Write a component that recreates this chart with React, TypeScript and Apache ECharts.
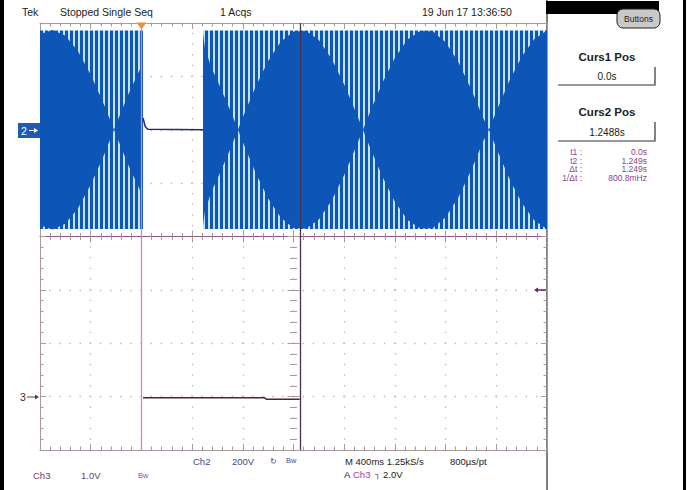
import React, { useEffect, useRef } from 'react';
import * as echarts from 'echarts';

// ---- axis ranges (time in s, vertical in divisions) ----
const timeMin = -0.8;
const timeMax = 3.2;
const timeDiv = 0.4;
const vMin = -4;
const vMax = 4;
const vDiv = 1;

// ---- Ch2 (200V/div) beat waveform, offset +2 div ----
const ch2Offset = 2.0;
const ch2Amplitude = 1.86;
const ch2Seg1Time = [-0.8, -0.7, -0.6, -0.5, -0.4, -0.3, -0.216, -0.2, -0.1, 0.0, 0.013];
const ch2Seg1Env = [1.79, 1.87, 1.76, 1.47, 1.03, 0.5, 0, 0.1, 0.68, 1.19, 1.23];
const ch2Seg2Time = [0.486, 0.5, 0.55, 0.6, 0.7, 0.762, 0.8, 0.9, 1.0, 1.1, 1.2, 1.3, 1.4, 1.5, 1.6, 1.7, 1.748, 1.8, 1.9, 2.0, 2.1, 2.2, 2.3, 2.4, 2.5, 2.6, 2.7, 2.742, 2.8, 2.9, 3.0, 3.1, 3.2];
const ch2Seg2Env = [1.8, 1.55, 1.17, 0.92, 0.37, 0, 0.23, 0.8, 1.29, 1.65, 1.84, 1.85, 1.68, 1.33, 0.85, 0.28, 0, 0.31, 0.87, 1.35, 1.69, 1.85, 1.84, 1.64, 1.27, 0.77, 0.2, 0, 0.34, 0.9, 1.37, 1.7, 1.86];
const ch2GapTime = [0.013, 0.03, 0.05, 0.486];
const ch2GapLevel = [2.22, 2.06, 2.01, 2.0];

// ---- Ch3 (1.0V/div), offset -3 div ----
const ch3Time = [0.013, 0.97, 0.985, 1.249];
const ch3Level = [-3.02, -3.02, -3.05, -3.05];

// ---- cursors / trigger ----
const cursorTimes = [0.0, 1.2488];
const triggerTime = 0.0;

const BLUE = '#0d55b7';
const GRAT = '#a89a9a';
const DOT = '#bdb5b5';
const FONT = "'Liberation Sans', Arial, sans-serif";

function txt(text: string, x: number, y: number, o: any = {}) {
  return {
    type: 'text',
    x,
    y,
    silent: true,
    z: 10,
    style: {
      text,
      font: `${o.weight || 'normal'} ${o.size || 10}px ${FONT}`,
      fill: o.color || '#222',
      textAlign: o.align || 'left',
      textVerticalAlign: 'middle',
    },
  };
}

function arrow(x1: number, x2: number, y: number, color: string, w: number) {
  // arrow pointing from x1 towards x2
  const dir = x2 > x1 ? 1 : -1;
  const head = 4 * dir;
  return [
    { type: 'line', silent: true, z: 10, shape: { x1, y1: y, x2: x2 - head, y2: y }, style: { stroke: color, lineWidth: w } },
    {
      type: 'polygon',
      silent: true,
      z: 10,
      shape: { points: [[x2, y], [x2 - head, y - 2.5], [x2 - head, y + 2.5]] },
      style: { fill: color },
    },
  ];
}

function xAxisDef(position: string, offset: number, inside: boolean, showLine: boolean, lineColor: string, split: boolean) {
  return {
    type: 'value',
    min: timeMin,
    max: timeMax,
    interval: timeDiv,
    position,
    offset,
    axisLabel: { show: false },
    axisLine: { show: showLine, onZero: false, lineStyle: { color: lineColor, width: 1 } },
    axisTick: { show: true, inside, length: 6, lineStyle: { color: GRAT, width: 1 } },
    minorTick: { show: true, splitNumber: 5, length: 3.5, lineStyle: { color: GRAT, width: 1 } },
    splitLine: split
      ? { show: true, lineStyle: { color: DOT, width: 1.3, type: [1.4, 9.28], dashOffset: 0.7 } }
      : { show: false },
  };
}

function yAxisDef(position: string, offset: number, inside: boolean, showLine: boolean, split: boolean) {
  return {
    type: 'value',
    min: vMin,
    max: vMax,
    interval: vDiv,
    position,
    offset,
    axisLabel: { show: false },
    axisLine: { show: showLine, onZero: false, lineStyle: { color: GRAT, width: 1 } },
    axisTick: { show: true, inside, length: 6, lineStyle: { color: GRAT, width: 1 } },
    minorTick: { show: true, splitNumber: 5, length: 3.5, lineStyle: { color: GRAT, width: 1 } },
    splitLine: split
      ? { show: true, lineStyle: { color: DOT, width: 1.3, type: [1.4, 8.74], dashOffset: 0.7 } }
      : { show: false },
  };
}

export default function App() {
  const ref = useRef<HTMLDivElement>(null);

  useEffect(() => {
    const el = ref.current as HTMLDivElement;
    const chart = echarts.init(el, null, { renderer: 'svg' });

    const cv = document.createElement('canvas');
    cv.width = 5;
    cv.height = 4;
    const ctx = cv.getContext('2d') as CanvasRenderingContext2D;
    ctx.fillStyle = '#c2e4ee';
    ctx.fillRect(0, 0, 5, 4);
    ctx.fillStyle = BLUE;
    ctx.fillRect(0, 0, 3, 4);
    const stripe: any = { image: cv.toDataURL(), repeat: 'repeat', imageWidth: 5, imageHeight: 4 };

    const segs = [
      { t: ch2Seg1Time, e: ch2Seg1Env },
      { t: ch2Seg2Time, e: ch2Seg2Env },
    ];

    const purple = '#8a3f8e';
    const ch2Col = '#3b4c92';
    const ch3Col = '#6e3a72';

    const option: any = {
      animation: false,
      backgroundColor: '#ffffff',
      grid: { left: 40, top: 23, width: 507, height: 427, show: false },
      xAxis: [
        xAxisDef('bottom', 0, true, true, GRAT, true),
        xAxisDef('top', 0, true, true, GRAT, false),
        xAxisDef('bottom', -213.5, true, true, '#8b5a7c', false),
        xAxisDef('bottom', -213.5, false, false, GRAT, false),
      ],
      yAxis: [
        yAxisDef('left', 0, true, true, true),
        yAxisDef('right', 0, true, true, false),
        yAxisDef('left', -253.5, true, false, false),
        yAxisDef('left', -253.5, false, false, false),
      ],
      series: [
        {
          type: 'custom',
          coordinateSystem: 'cartesian2d',
          xAxisIndex: 0,
          yAxisIndex: 0,
          silent: true,
          z: 2,
          data: [
            [ch2Seg1Time[0], ch2Offset],
            [ch2Seg2Time[0], ch2Offset],
          ],
          renderItem: (params: any, api: any) => {
            const seg = segs[params.dataIndex];
            const n = seg.t.length;
            const band = [
              api.coord([seg.t[0], ch2Offset + ch2Amplitude]),
              api.coord([seg.t[n - 1], ch2Offset + ch2Amplitude]),
              api.coord([seg.t[n - 1], ch2Offset - ch2Amplitude]),
              api.coord([seg.t[0], ch2Offset - ch2Amplitude]),
            ];
            const upper = seg.t.map((t, i) => api.coord([t, ch2Offset + seg.e[i]]));
            const lower = seg.t.map((t, i) => api.coord([t, ch2Offset - seg.e[i]])).reverse();
            return {
              type: 'group',
              children: [
                { type: 'polygon', shape: { points: band }, style: { fill: stripe } },
                { type: 'polygon', shape: { points: upper.concat(lower) }, style: { fill: BLUE } },
              ],
            };
          },
        },
        {
          type: 'line',
          xAxisIndex: 0,
          yAxisIndex: 0,
          z: 3,
          symbol: 'none',
          silent: true,
          data: ch2GapTime.map((t, i) => [t, ch2GapLevel[i]]),
          lineStyle: { color: '#1f2e66', width: 1.5 },
        },
        {
          type: 'line',
          xAxisIndex: 0,
          yAxisIndex: 0,
          z: 4,
          symbol: 'none',
          silent: true,
          data: ch3Time.map((t, i) => [t, ch3Level[i]]),
          lineStyle: { color: '#4f2346', width: 1.5 },
          markLine: {
            silent: true,
            symbol: ['none', 'none'],
            label: { show: false },
            data: [
              { xAxis: cursorTimes[0], lineStyle: { color: '#c98bc6', width: 1.3, type: 'solid' } },
              { xAxis: cursorTimes[1], lineStyle: { color: '#46304e', width: 1.3, type: 'solid' } },
            ],
          },
          markPoint: {
            silent: true,
            data: [
              {
                coord: [triggerTime, vMax],
                symbol: 'triangle',
                symbolSize: [10, 7],
                symbolRotate: 180,
                symbolOffset: [0, 3],
                itemStyle: { color: '#e8923a' },
                label: { show: false },
              },
            ],
          },
        },
      ],
      graphic: [
        // frame
        { type: 'rect', silent: true, shape: { x: 0, y: 0, width: 4, height: 490 }, style: { fill: '#000' } },
        { type: 'rect', silent: true, shape: { x: 683, y: 0, width: 3, height: 490 }, style: { fill: '#000' } },
        { type: 'line', silent: true, shape: { x1: 547, y1: 0, x2: 547, y2: 490 }, style: { stroke: '#555', lineWidth: 1.5 } },
        // right panel header
        { type: 'rect', silent: true, shape: { x: 546, y: 1, width: 113, height: 13 }, style: { fill: '#000' } },
        { type: 'rect', silent: true, shape: { x: 617, y: 9, width: 43, height: 19, r: 6 }, style: { fill: '#c9c9c9', stroke: '#222', lineWidth: 1 } },
        txt('Buttons', 638.5, 18.5, { size: 8.5, align: 'center' }),
        txt('Curs1 Pos', 607, 57, { size: 11.5, weight: 'bold', align: 'center' }),
        { type: 'polyline', silent: true, shape: { points: [[558, 85], [655, 85], [655, 67]] }, style: { stroke: '#333', lineWidth: 1.2, fill: null } },
        txt('0.0s', 607, 76, { size: 10, align: 'center' }),
        txt('Curs2 Pos', 607, 112, { size: 11.5, weight: 'bold', align: 'center' }),
        { type: 'polyline', silent: true, shape: { points: [[558, 141], [655, 141], [655, 122]] }, style: { stroke: '#333', lineWidth: 1.2, fill: null } },
        txt('1.2488s', 607, 132, { size: 10, align: 'center' }),
        txt('t1 :', 582, 152, { size: 8.5, align: 'right', color: purple }),
        txt('t2 :', 582, 160.7, { size: 8.5, align: 'right', color: purple }),
        txt('Δt :', 582, 169.4, { size: 8.5, align: 'right', color: purple }),
        txt('1/Δt :', 582, 178.1, { size: 8.5, align: 'right', color: purple }),
        txt('0.0s', 647, 152, { size: 8.5, align: 'right', color: purple }),
        txt('1.249s', 647, 160.7, { size: 8.5, align: 'right', color: purple }),
        txt('1.249s', 647, 169.4, { size: 8.5, align: 'right', color: purple }),
        txt('800.8mHz', 647, 178.1, { size: 8.5, align: 'right', color: purple }),
        // top status line
        txt('Tek', 22, 12, { size: 10.5 }),
        txt('Stopped Single Seq', 60, 12, { size: 10.5 }),
        txt('1 Acqs', 220, 12, { size: 10.5 }),
        txt('19 Jun 17 13:36:50', 422, 12, { size: 10.5 }),
        // channel markers
        { type: 'rect', silent: true, shape: { x: 18, y: 123, width: 22, height: 15 }, style: { fill: '#1d5bb5' } },
        txt('2', 21, 130.5, { size: 10.5, color: '#ffffff' }),
        ...arrow(29, 38, 130.5, '#ffffff', 1),
        txt('3', 20, 397, { size: 10.5, color: '#333' }),
        ...arrow(27, 39, 397, '#444', 1),
        ...arrow(546, 534, 290, '#6a1f6a', 1.5),
        // bottom readouts
        txt('Ch2', 193, 461, { size: 9.5, color: ch2Col }),
        txt('200V', 232, 461, { size: 9.5, color: ch2Col }),
        txt('↻', 270, 461, { size: 8, color: ch2Col }),
        txt('Bw', 286, 460, { size: 7.5, color: ch2Col }),
        txt('Ch3', 33, 475, { size: 9.5, color: ch3Col }),
        txt('1.0V', 81, 475, { size: 9.5, color: ch3Col }),
        txt('Bw', 138, 475, { size: 7.5, color: '#a043a0' }),
        txt('M 400ms 1.25kS/s', 345, 461, { size: 9.5 }),
        txt('800µs/pt', 450, 461, { size: 9.5 }),
        txt('A', 344, 474, { size: 9.5 }),
        txt('Ch3', 353, 474, { size: 9.5, color: '#a043a0' }),
        txt('┐', 375, 474, { size: 8 }),
        txt('2.0V', 383, 474, { size: 9.5 }),
      ],
    };

    chart.setOption(option);
    return () => chart.dispose();
  }, []);

  return <div ref={ref} style={{ position: 'fixed', left: 0, top: 0, width: 688, height: 490 }} />;
}
